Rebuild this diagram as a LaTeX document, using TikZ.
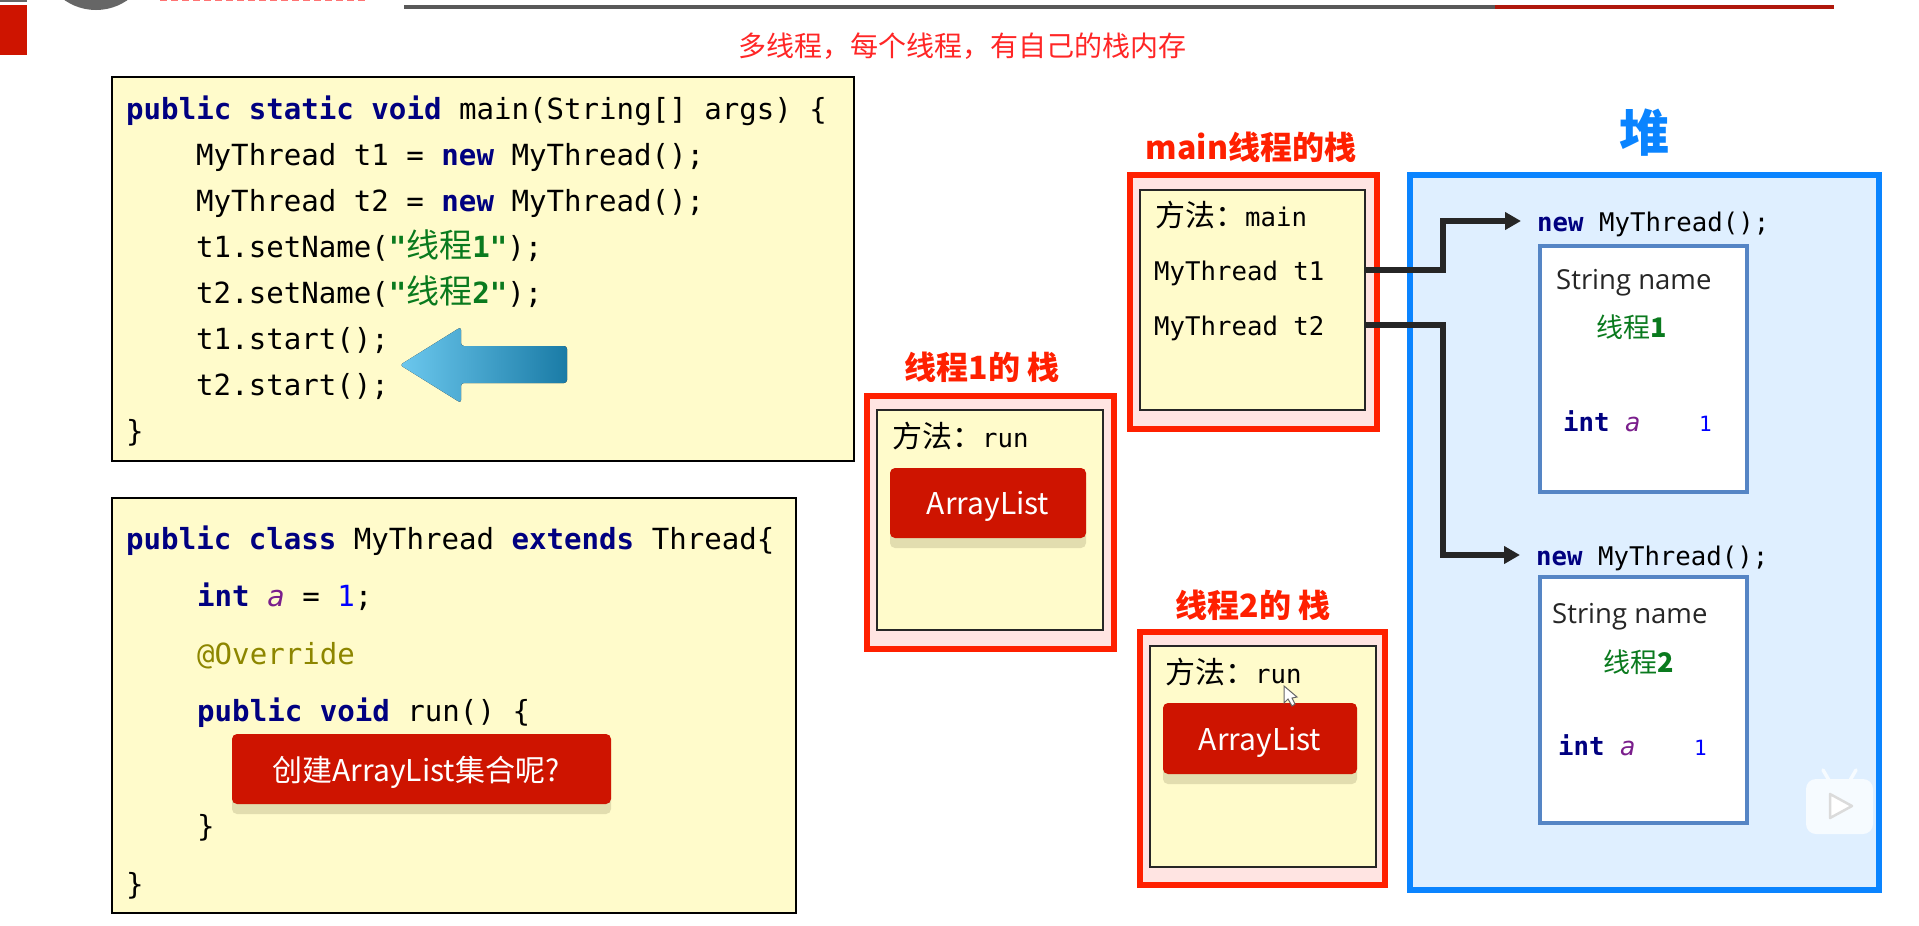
\documentclass[tikz,border=0pt]{standalone}
\usepackage{fontspec}
\usepackage{xcolor}
\usetikzlibrary{arrows.meta, positioning}
\setmainfont{Open Sans}
\setmonofont{DejaVu Sans Mono}
\newfontfamily\cjk{Noto Sans CJK SC}

\definecolor{codebg}{HTML}{FFFBCB}
\definecolor{keyblue}{HTML}{000080}
\definecolor{strgreen}{HTML}{0A7A1E}
\definecolor{varpurple}{HTML}{7A1E8C}
\definecolor{stackred}{HTML}{FF2000}
\definecolor{stackbg}{HTML}{FFE4E2}
\definecolor{heapblue}{HTML}{0A84FF}
\definecolor{heapbg}{HTML}{DFEFFF}
\definecolor{btnred}{HTML}{CE1400}
\definecolor{btnshadow}{HTML}{E2DDAF}
\definecolor{objblue}{HTML}{5585C5}
\definecolor{arrowlight}{HTML}{6CC8EE}
\definecolor{arrowmid}{HTML}{4DB2DA}
\definecolor{arrowdark}{HTML}{1A7BA6}
\definecolor{barred}{HTML}{B0180C}
\definecolor{badge}{HTML}{F6FBFF}

\newcommand{\kw}[1]{\textcolor{keyblue}{\bfseries #1}}
\newcommand{\vara}{\textcolor{varpurple}{\itshape a}}
\newcommand{\zhname}[1]{{\fontsize{33}{29}\selectfont\cjk\mdseries #1}}
\newcommand{\zhhead}{{\fontsize{30}{26}\selectfont\cjk 方法：}}

\begin{document}
\begin{tikzpicture}[x=1pt, y=-1pt,
        code/.style={anchor=west, inner sep=0pt, text height=24pt, text depth=4pt, font=\fontsize{29.1}{29}\selectfont\ttfamily},
        small/.style={anchor=west, inner sep=0pt, text height=22pt, text depth=2pt, font=\fontsize{25.7}{26}\selectfont\ttfamily},
        codebox/.style={draw=black, line width=2pt, fill=codebg},
        outerbox/.style={draw=stackred, line width=6pt, fill=stackbg},
        innerbox/.style={draw=black!85, line width=2pt, fill=codebg},
        objbox/.style={draw=objblue, line width=4pt, fill=white},
        stacklabel/.style={inner sep=0pt, text=stackred, font=\fontsize{32}{32}\selectfont\cjk\bfseries},
        btn/.style={fill=btnred, rounded corners=5pt, text=white, text depth=0pt, font=\fontsize{30}{30}\selectfont\cjk},
        shade/.style={fill=btnshadow, rounded corners=5pt},
        sname/.style={anchor=west, inner sep=0pt, text=black!85, text depth=0pt, font=\fontsize{27.5}{27}\selectfont},
        gname/.style={inner sep=0pt, text=strgreen, font=\fontsize{27}{27}\selectfont\cjk},
        ref/.style={-{Triangle[length=16pt, width=17pt]}, line width=6pt, draw=black!85, shorten >=16pt}
    ]
    \useasboundingbox (0,0) rectangle (1919,926);
    \fill[white] (0,0) rectangle (1919,926);

    % top strip of the slide
    \fill[btnred] (0,5) rectangle (27,55);
    \fill[black!60] (0,0) rectangle (27,1.5);
    \fill[black!60] (96,-45) circle (55);
    \draw[red!55, line width=2pt, dash pattern=on 7pt off 4pt] (160,0) -- (368,0);
    \fill[black!65] (404,5) rectangle (1495,9);
    \fill[barred] (1495,5) rectangle (1834,9);
    \node[inner sep=0pt, text=red!85, font=\fontsize{28}{28}\selectfont\cjk] (title) at (962,46) {多线程，每个线程，有自己的栈内存};

    % code
    \node[codebox, minimum width=742pt, minimum height=384pt] (mainbox) at (483,269) {};
    \node[code] (m1) at (126,109) {\kw{public} \kw{static} \kw{void} main(String[] args) \{};
    \node[code] (m2) at (196,155) {MyThread t1 = \kw{new} MyThread();};
    \node[code] (m3) at (196,201) {MyThread t2 = \kw{new} MyThread();};
    \node[code] (m4) at (196,247) {t1.setName(\textcolor{strgreen}{\bfseries"\zhname{线程}1"});};
    \node[code] (m5) at (196,293) {t2.setName(\textcolor{strgreen}{\bfseries"\zhname{线程}2"});};
    \node[code] (m6) at (196,339) {t1.start();};
    \node[code] (m7) at (196,385) {t2.start();};
    \node[code] (m8) at (126,431) {\}};

    \fill[rounded corners=3pt, left color=arrowlight, middle color=arrowmid, right color=arrowdark] (400,365) -- (461,327) -- (461,346) -- (567,346) -- (567,383) -- (461,383) -- (461,403) -- cycle;

    \node[codebox, minimum width=684pt, minimum height=415pt] (classbox) at (454,705.5) {};
    \node[code] (c1) at (126,539) {\kw{public} \kw{class} MyThread \kw{extends} Thread\{};
    \node[code] (c2) at (197,596) {\kw{int} \vara{} = \textcolor{blue}{1};};
    \node[code, text=olive] (c3) at (197,654) {@Override};
    \node[code] (c4) at (197,711) {\kw{public} \kw{void} run() \{};
    \node[code] (c5) at (197,826) {\}};
    \node[code] (c6) at (126,884) {\}};
    \fill[shade] (232,744) rectangle (611,814);
    \node[btn, minimum width=379pt, minimum height=70pt] (ask) at (421.5,769) {创建ArrayList集合呢?\hspace*{11pt}};

    % stack of main
    \node[stacklabel] (mainlabel) at (1251,147) {main线程的栈};
    \node[outerbox, minimum width=247pt, minimum height=254pt] (mainouter) at (1253.5,301.5) {};
    \node[innerbox, minimum width=225pt, minimum height=220pt] (maininner) at (1252.5,300) {};
    \node[small] (mm) at (1155,216) {\zhhead main};
    \node[small] (t1) at (1154,270) {MyThread t1};
    \node[small] (t2) at (1154,325) {MyThread t2};
    \coordinate (t1end) at (maininner.east |- t1);
    \coordinate (t2end) at (maininner.east |- t2);

    % stack of thread 1
    \node[stacklabel] (label1) at (982,367) {线程1的 栈};
    \node[outerbox, minimum width=247pt, minimum height=253pt] (outer1) at (990.5,522) {};
    \node[innerbox, minimum width=226pt, minimum height=220pt] (inner1) at (990,520) {};
    \node[small] (run1) at (892,437) {\zhhead run};
    \fill[shade] (890,478) rectangle (1086,548);
    \node[btn, minimum width=196pt, minimum height=70pt] (list1) at (988,503) {ArrayList};

    % stack of thread 2
    \node[stacklabel] (label2) at (1253,605) {线程2的 栈};
    \node[outerbox, minimum width=245pt, minimum height=253pt] (outer2) at (1262.5,758) {};
    \node[innerbox, minimum width=226pt, minimum height=221pt] (inner2) at (1263,756.5) {};
    \node[small] (run2) at (1165,673) {\zhhead run};
    \fill[shade] (1163,713) rectangle (1357,784);
    \node[btn, minimum width=194pt, minimum height=71pt] (list2) at (1260,738.5) {ArrayList};
    \draw[black!60, fill=white, line width=1pt] (1284,686) -- (1284,703) -- (1288,699) -- (1292,706) -- (1295,704) -- (1292,698) -- (1297,697) -- cycle;

    % heap
    \node[inner sep=0pt, text=heapblue, font=\fontsize{50}{50}\selectfont\cjk\bfseries] (heaplabel) at (1644,133) {堆};
    \node[draw=heapblue, line width=6pt, fill=heapbg, minimum width=469pt, minimum height=715pt] (heap) at (1644,532) {};

    \node[small] (new1) at (1537,221) {\kw{new} MyThread();};
    \node[objbox, minimum width=207pt, minimum height=246pt] (obj1) at (1643.5,369) {};
    \node[sname] (name1) at (1556,279) {String name};
    \node[gname] (val1) at (1632,327) {线程{\bfseries 1}};
    \node[small] (int1) at (1563,421) {\kw{int} \vara};
    \node[small, text=blue, font=\fontsize{21}{21}\selectfont\ttfamily] (one1) at (1699,421) {1};

    \node[small] (new2) at (1536,555) {\kw{new} MyThread();};
    \node[objbox, minimum width=207pt, minimum height=246pt] (obj2) at (1643.5,700) {};
    \node[sname] (name2) at (1552,613) {String name};
    \node[gname] (val2) at (1639,662) {线程{\bfseries 2}};
    \node[small] (int2) at (1558,745) {\kw{int} \vara};
    \node[small, text=blue, font=\fontsize{21}{21}\selectfont\ttfamily] (one2) at (1694,745) {1};

    \coordinate (bus) at (1443,400);
    \draw[ref] (t1end) -| (bus |- new1.west) -- (new1.west);
    \draw[ref] (t2end) -| (bus |- new2.west) -- (new2.west);

    % player badge
    \draw[badge, line width=3.5pt, line cap=round] (1823,770) -- (1830,782) (1856,770) -- (1849,782);
    \fill[badge, rounded corners=10pt] (1806,779) rectangle (1873,834);
    \draw[black!14, fill=white, line width=2.5pt, line join=round] (1830,794) -- (1852,806) -- (1830,818) -- cycle;
\end{tikzpicture}
\end{document}
